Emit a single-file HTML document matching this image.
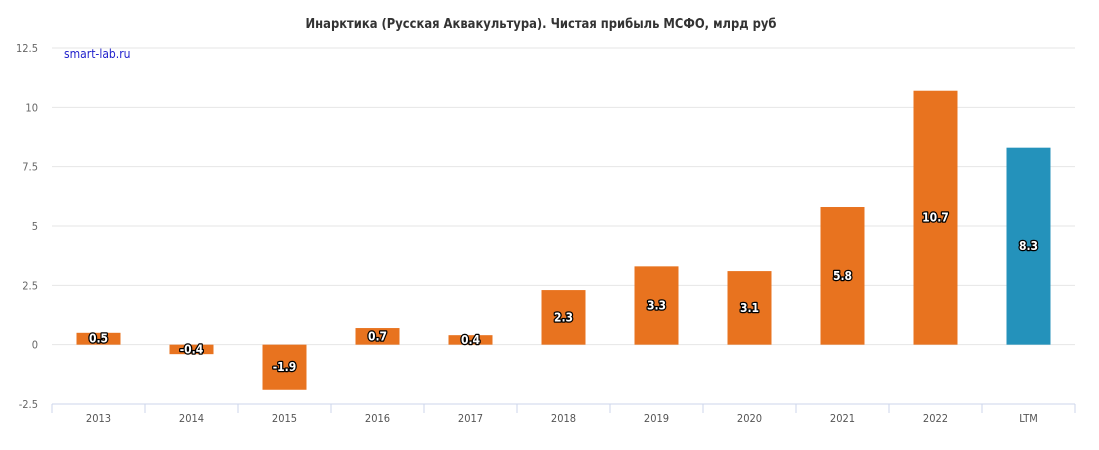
<!DOCTYPE html>
<html><head><meta charset="utf-8"><style>
body{margin:0;background:#fff;font-family:"Liberation Sans","DejaVu Sans",sans-serif}
</style></head><body>
<svg id="c" width="1099" height="445" xmlns="http://www.w3.org/2000/svg">
<text x="541" y="28" text-anchor="middle" font-size="13" font-weight="bold" fill="#333" font-family="DejaVu Sans Condensed, DejaVu Sans, sans-serif" font-stretch="condensed" textLength="471" lengthAdjust="spacingAndGlyphs">Инарктика (Русская Аквакультура). Чистая прибыль МСФО, млрд руб</text>
<text x="64" y="58" font-size="12" fill="#2222cc" font-family="DejaVu Sans Condensed, DejaVu Sans, sans-serif" font-stretch="condensed">smart-lab.ru</text>
</svg>
<script>
const categories=["2013","2014","2015","2016","2017","2018","2019","2020","2021","2022","LTM"];
const values=[0.5,-0.4,-1.9,0.7,0.4,2.3,3.3,3.1,5.8,10.7,8.3];
const labels=["0.5","-0.4","-1.9","0.7","0.4","2.3","3.3","3.1","5.8","10.7","8.3"];
const yTicks=[-2.5,0,2.5,5,7.5,10,12.5];
const yTickLabels=["-2.5","0","2.5","5","7.5","10","12.5"];
const svg=document.getElementById('c');const NS='http://www.w3.org/2000/svg';
const FF='DejaVu Sans Condensed, DejaVu Sans, sans-serif';
const L=52,R=1075,T=48,B=404,yMin=-2.5,yMax=12.5;
const y=v=>B-(v-yMin)/(yMax-yMin)*(B-T);
const bw=(R-L)/categories.length;
const x=i=>L+bw*i;
function mk(t,a,p){const e=document.createElementNS(NS,t);for(const k in a)e.setAttribute(k,a[k]);(p||svg).appendChild(e);return e;}
yTicks.forEach((v,i)=>{
 if(v!==yMin){const g=mk('line',{x1:L,x2:R,y1:y(v),y2:y(v),stroke:'#e6e6e6'});
 
 }
 const t=mk('text',{x:38,y:y(v)+4,'text-anchor':'end','font-size':11,fill:'#666','font-family':FF,'font-stretch':'condensed'});
 t.textContent=yTickLabels[i];
 
 
});
const ax=mk('line',{x1:L,x2:R,y1:B,y2:B,stroke:'#ccd6eb'});


for(let i=0;i<=categories.length;i++){const tk=mk('line',{x1:x(i),x2:x(i),y1:B,y2:B+9,stroke:'#ccd6eb'});

}
categories.forEach((c,i)=>{
 const cx=x(i)+bw/2,v=values[i];
 const r=mk('rect',{x:cx-22,width:44,y:Math.min(y(v),y(0)),height:Math.abs(y(v)-y(0)),fill:c==='LTM'?'#2492bb':'#e8731f'});
 
 
 const t=mk('text',{x:cx,y:(y(v)+y(0))/2+4,'text-anchor':'middle','font-size':12,'font-weight':'bold',fill:'#fff',stroke:'#000','stroke-width':2.5,'paint-order':'stroke','stroke-linejoin':'round','font-family':FF,'font-stretch':'condensed'});
 t.textContent=labels[i];
 
 
 const xl=mk('text',{x:cx,y:422,'text-anchor':'middle','font-size':11,fill:'#555','font-family':FF,'font-stretch':'condensed'});
 xl.textContent=c;
 
 
});
</script>
</body></html>
